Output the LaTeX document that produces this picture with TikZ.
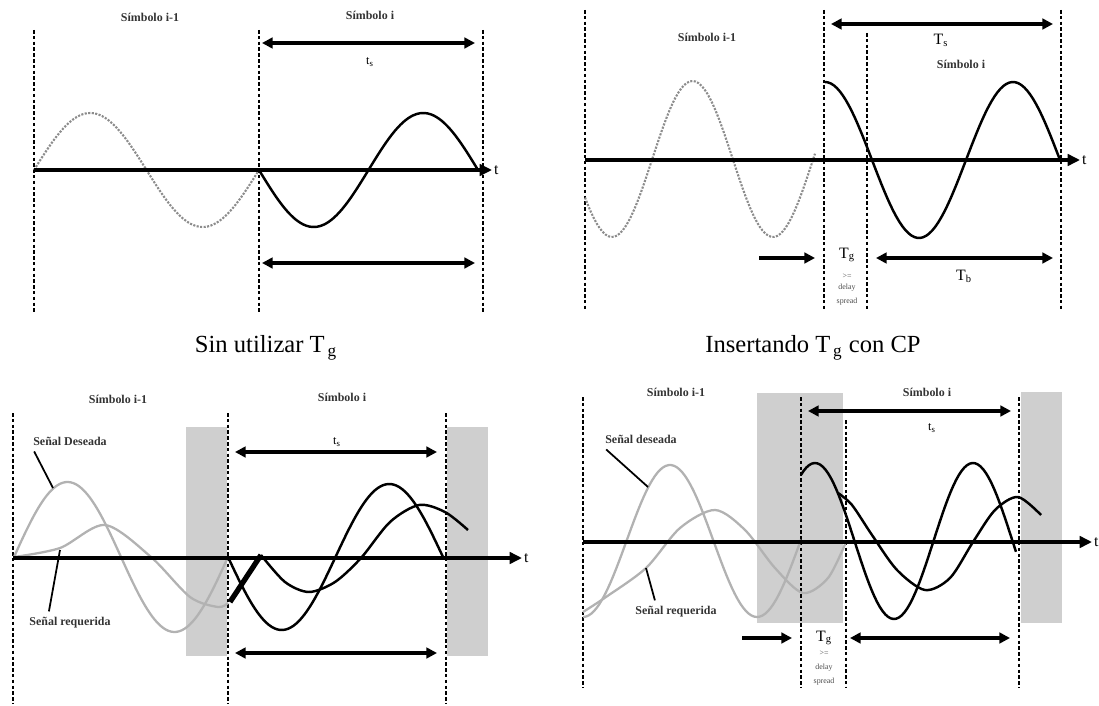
\documentclass[tikz,border=0pt]{standalone}
\usepackage{fontspec}
\setmainfont{Liberation Serif}
\usetikzlibrary{arrows.meta}
\tikzset{
  sep/.style={line width=1.3pt, dash pattern=on 2pt off 1.3pt},
  axis/.style={line width=2pt, -{Triangle[length=7pt,width=6.5pt]}},
  span/.style={line width=1.9pt, {Triangle[length=6pt,width=6pt]}-{Triangle[length=6pt,width=6pt]}},
  push/.style={line width=1.9pt, -{Triangle[length=6pt,width=6pt]}},
  oldwave/.style={gray!90, line width=1.2pt, dash pattern=on 1.2pt off 0.8pt},
  newwave/.style={black, line width=1.4pt},
  faint/.style={gray!60, line width=1.3pt},
  guard/.style={fill=gray!38, draw=none},
  leader/.style={black, line width=1pt},
  symlbl/.style={font=\fontsize{6.8}{7}\selectfont\bfseries, text=black!80},
  dur/.style={font=\fontsize{9}{10}\selectfont, inner sep=1pt},
  tiny/.style={font=\fontsize{4.5}{5}\selectfont, text=black!70, inner sep=0pt},
  figcap/.style={font=\fontsize{14}{16}\selectfont}
}
\begin{document}
\begin{tikzpicture}[x=0.02cm, y=-0.02cm]
  \useasboundingbox (0,0) rectangle (1099,706);

  % guard intervals, shaded
  \fill[guard] (186,427) rectangle (227,656);
  \fill[guard] (447,427) rectangle (488,656);
  \fill[guard] (757,393) rectangle (843,623);
  \fill[guard] (1021,392) rectangle (1062,623);

  % symbol boundaries
  \foreach \n/\x/\ya/\yb in {tla/34/30/312, tlb/259/30/312, tlc/483/30/312,
      tra/585/10/310, trb/824/10/310, trc/867/33/310, trd/1061/10/310,
      bla/13/413/704, blb/228/413/704, blc/446/413/704,
      bra/583/397/688, brb/801/397/688, brc/846/420/688, brd/1019/397/688} {
    \coordinate (\n t) at (\x,\ya);
    \coordinate (\n b) at (\x,\yb);
    \draw[sep] (\n t) -- (\n b);
  }

  % waveforms: previous symbol dotted / grey, current symbol black
  \draw[oldwave] plot[domain=34:259, samples=80] (\x, {170-57*sin((\x-34)/225*360)});
  \draw[newwave] plot[domain=259:478, samples=80] (\x, {170+57*sin((\x-259)/219*360)});
  \draw[oldwave] plot[domain=585:815, samples=80] (\x, {159+78*cos((\x-612)/161*360)});
  \draw[newwave] plot[domain=825:1060, samples=80] (\x, {160-78*cos((\x-825)/188*360)});

  \draw[faint] plot[domain=14:228, samples=80] (\x, {557-75*sin((\x-14)/214*360)});
  \draw[faint] plot[smooth] coordinates {(14,557) (60,548) (105,525) (151,557) (190,597) (218,607) (228,603)};
  \draw[newwave] plot[domain=228:443, samples=80] (\x, {557+73*sin((\x-228)/215*360)});
  \draw[newwave, line width=3pt] (230,602) -- (261,555);
  \draw[newwave] plot[smooth] coordinates {(261,555) (285,582) (309,592) (335,582) (361,558) (390,522) (419,505) (445,512) (468,530)};

  \draw[faint] plot[domain=583:801, samples=80] (\x, {541+76*cos((\x-583)/174*360)});
  \draw[faint] plot[smooth] coordinates {(583,612) (606,597) (646,568) (680,528) (715,510) (745,530) (775,568) (803,593) (828,578) (846,542)};
  \draw[newwave] plot[domain=801:1016, samples=80] (\x, {541-78*cos((\x-815)/158*360)});
  \draw[newwave] plot[smooth] coordinates {(838,493) (852,505) (872,535) (897,570) (925,590) (950,578) (973,542) (995,510) (1018,497) (1041,515)};

  % time axes
  \foreach \n/\xa/\xb/\y in {tl/34/492/170, tr/585/1080/160, bl/13/522/558, br/583/1092/542} {
    \coordinate (ax\n) at (\xa,\y);
    \node[dur, anchor=west] (t\n) at (\xb,\y) {t};
    \draw[axis] (ax\n) -- (t\n.west);
  }

  % durations
  \foreach \n/\xa/\xb/\y in {tlu/262/475/43, tld/262/475/263, tru/831/1053/24, trd/876/1053/258,
      blu/235/437/452, bld/235/437/653, bru/808/1011/411, brd/850/1010/638} {
    \coordinate (\n a) at (\xa,\y);
    \coordinate (\n b) at (\xb,\y);
    \draw[span] (\n a) -- (\n b);
  }
  \foreach \n/\xa/\xb/\y in {trp/759/815/258, brp/742/792/638} {
    \coordinate (\n a) at (\xa,\y);
    \coordinate (\n b) at (\xb,\y);
    \draw[push] (\n a) -- (\n b);
  }

  % labels
  \node[symlbl] (sTLa) at (150,17) {Símbolo i-1};
  \node[symlbl] (sTLb) at (370,15) {Símbolo i};
  \node[symlbl] (sTRa) at (707,37) {Símbolo i-1};
  \node[symlbl] (sTRb) at (961,64) {Símbolo i};
  \node[symlbl] (sBLa) at (118,399) {Símbolo i-1};
  \node[symlbl] (sBLb) at (342,397) {Símbolo i};
  \node[symlbl] (sBRa) at (676,392) {Símbolo i-1};
  \node[symlbl] (sBRb) at (927,392) {Símbolo i};

  \node[dur, font=\fontsize{7}{8}\selectfont] (tsTL) at (370,62) {t\textsubscript{s}};
  \node[dur] (tsTR) at (941,40) {T\textsubscript{s}};
  \node[dur, font=\fontsize{7}{8}\selectfont] (tsBL) at (337,442) {t\textsubscript{s}};
  \node[dur, font=\fontsize{7}{8}\selectfont] (tsBR) at (932,428) {t\textsubscript{s}};
  \node[dur] (tbTR) at (964,276) {T\textsubscript{b}};

  \node[dur] (tgTR) at (847,255) {T\textsubscript{g}};
  \node[tiny] (geTR) at (847,276) {>=};
  \node[tiny] (dlTR) at (847,288) {delay};
  \node[tiny] (spTR) at (847,302) {spread};
  \node[dur] (tgBR) at (824,638) {T\textsubscript{g}};
  \node[tiny] (geBR) at (824,653) {>=};
  \node[tiny] (dlBR) at (824,668) {delay};
  \node[tiny] (spBR) at (824,682) {spread};

  % signal names with leaders
  \node[symlbl] (sdBL) at (70,441) {Señal Deseada};
  \node[symlbl] (srBL) at (70,623) {Señal requerida};
  \node[symlbl] (sdBR) at (641,439) {Señal deseada};
  \node[symlbl] (srBR) at (676,612) {Señal requerida};
  \coordinate (pdBL) at (53,488);
  \coordinate (prBL) at (60,550);
  \coordinate (pdBR) at (648,487);
  \coordinate (prBR) at (646,568);
  \draw[leader] ([xshift=4pt]sdBL.south west) -- (pdBL);
  \draw[leader] ([xshift=-12pt]srBL.north) -- (prBL);
  \draw[leader] ([xshift=4pt]sdBR.south west) -- (pdBR);
  \draw[leader] ([xshift=-12pt]srBR.north) -- (prBR);

  % captions
  \node[figcap] (capA) at (266,348) {Sin utilizar T\textsubscript{\,g}};
  \node[figcap] (capB) at (813,348) {Insertando T\textsubscript{\,g} con CP};
\end{tikzpicture}
\end{document}
